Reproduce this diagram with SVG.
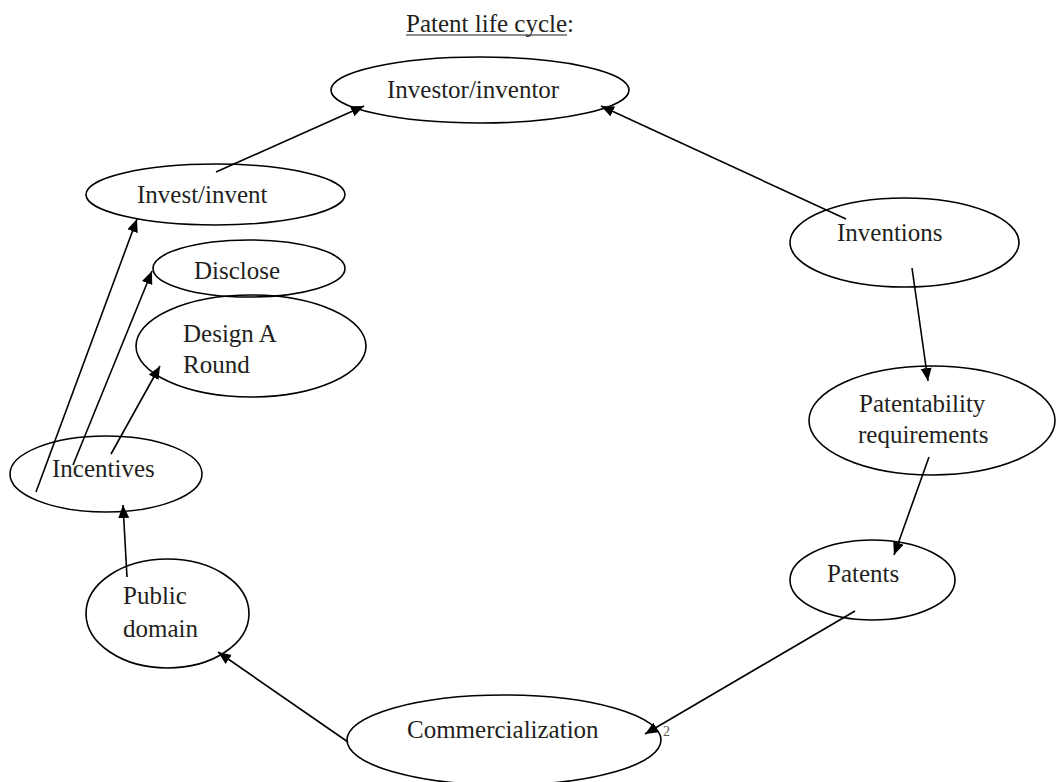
<svg xmlns="http://www.w3.org/2000/svg" width="1056" height="782" viewBox="0 0 1056 782">
<style>
.n{fill:none;stroke:#000;stroke-width:1.6}
.t{font-family:"Liberation Serif","Times New Roman",serif;font-size:25px;fill:#231f20}
.c{stroke:#000;stroke-width:1.6;fill:none;marker-end:url(#ah)}
</style>
<defs>
<marker id="ah" markerUnits="userSpaceOnUse" markerWidth="14" markerHeight="12" refX="13" refY="5.5" orient="auto">
<path d="M0,0 L13,5.5 L0,11 z" fill="#000"/>
</marker>
</defs>
<rect width="1056" height="782" fill="#fff"/>
<g id="title">
<text class="t" x="406" y="32">Patent life cycle:</text>
<line x1="406" y1="35" x2="567" y2="35" stroke="#231f20" stroke-width="1.2"/>
</g>
<g id="connectors">
<line class="c" x1="216" y1="172" x2="364" y2="106"/>
<line class="c" x1="846" y1="219" x2="601" y2="106"/>
<line class="c" x1="912" y1="268" x2="928" y2="381"/>
<line class="c" x1="929" y1="457" x2="894" y2="555"/>
<line class="c" x1="855" y1="611" x2="645" y2="734"/>
<line class="c" x1="348" y1="742" x2="218" y2="652"/>
<line class="c" x1="127" y1="577" x2="123" y2="505"/>
<line class="c" x1="111" y1="454" x2="160" y2="366"/>
<line class="c" x1="73" y1="465" x2="152" y2="271"/>
<line class="c" x1="36" y1="492" x2="137" y2="219"/>
</g>
<g id="investor"><ellipse class="n" cx="480" cy="90" rx="149" ry="33"/><text class="t" x="387" y="98">Investor/inventor</text></g>
<g id="invest"><ellipse class="n" cx="215.5" cy="194.5" rx="129.5" ry="30.5"/><text class="t" x="137" y="203">Invest/invent</text></g>
<g id="disclose"><ellipse class="n" cx="249" cy="268.5" rx="96" ry="28.5"/><text class="t" x="194" y="279">Disclose</text></g>
<g id="design"><ellipse class="n" cx="251" cy="346" rx="115" ry="51"/><text class="t" x="183" y="342">Design A</text><text class="t" x="183" y="373">Round</text></g>
<g id="incentives"><ellipse class="n" cx="106" cy="474" rx="96" ry="38"/><text class="t" x="52" y="477">Incentives</text></g>
<g id="public"><ellipse class="n" cx="167.5" cy="613.5" rx="81.5" ry="54.5"/><text class="t" x="123" y="604">Public</text><text class="t" x="123" y="637">domain</text></g>
<g id="commercialization"><ellipse class="n" cx="504" cy="740" rx="157" ry="45"/><text class="t" x="407" y="738">Commercialization</text><text x="663" y="736" font-family="Liberation Serif, serif" font-size="14" fill="#555">2</text></g>
<g id="inventions"><ellipse class="n" cx="904.5" cy="242.5" rx="114.5" ry="44.5"/><text class="t" x="837" y="241">Inventions</text></g>
<g id="patentability"><ellipse class="n" cx="932" cy="420.5" rx="123" ry="54.5"/><text class="t" x="859" y="412">Patentability</text><text class="t" x="858" y="443">requirements</text></g>
<g id="patents"><ellipse class="n" cx="872.5" cy="580" rx="82.5" ry="40"/><text class="t" x="827" y="582">Patents</text></g>
</svg>
